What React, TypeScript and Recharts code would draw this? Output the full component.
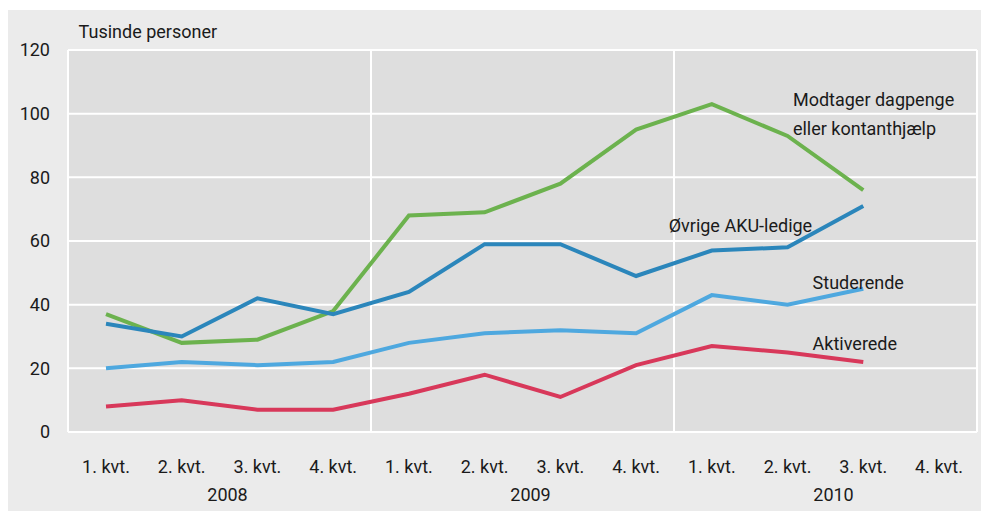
import React from 'react';
import { LineChart, Line, XAxis, YAxis, CartesianGrid, ReferenceLine, ReferenceDot } from 'recharts';

const quarters = ['2008K1', '2008K2', '2008K3', '2008K4', '2009K1', '2009K2', '2009K3', '2009K4', '2010K1', '2010K2', '2010K3', '2010K4'];
const quarterLabels = ['1. kvt.', '2. kvt.', '3. kvt.', '4. kvt.', '1. kvt.', '2. kvt.', '3. kvt.', '4. kvt.', '1. kvt.', '2. kvt.', '3. kvt.', '4. kvt.'];
const years = ['2008', '2009', '2010'];
const yTicks = [0, 20, 40, 60, 80, 100, 120];

const dagpenge = [37, 28, 29, 38, 68, 69, 78, 95, 103, 93, 76, null];
const akuLedige = [34, 30, 42, 37, 44, 59, 59, 49, 57, 58, 71, null];
const studerende = [20, 22, 21, 22, 28, 31, 32, 31, 43, 40, 45, null];
const aktiverede = [8, 10, 7, 7, 12, 18, 11, 21, 27, 25, 22, null];

const data = quarters.map((q, i) => ({
    q,
    idx: i,
    dagpenge: dagpenge[i],
    akuLedige: akuLedige[i],
    studerende: studerende[i],
    aktiverede: aktiverede[i],
}));

const FONT = 'Roboto, sans-serif';
const FS = 18;
const TEXT = '#1a1a1a';

// year boundaries and year label positions on the index axis
const yearEdges = [-0.5, 3.5, 7.5, 11.5];
const yearMids = [1.5, 5.5, 9.5];

// text notes placed in axis units (index axis, y axis 0..120)
const notes = [
    { x: -0.36, y: 123.8, lines: ['Tusinde personer'] },
    { x: 9.07, y: 102.4, lines: ['Modtager dagpenge', 'eller kontanthjælp'] },
    { x: 7.43, y: 62.8, lines: ['Øvrige AKU-ledige'] },
    { x: 9.33, y: 44.9, lines: ['Studerende'] },
    { x: 9.33, y: 25.8, lines: ['Aktiverede'] },
];

const renderNote = (lines: string[]) => (props: any) => {
    const vb = props.viewBox || {};
    return (
        <text x={vb.x} y={vb.y} fill={TEXT} fontFamily={FONT} fontSize={FS}>
            {lines.map((l, i) => (
                <tspan key={i} x={vb.x} dy={i === 0 ? 0 : 29}>{l}</tspan>
            ))}
        </text>
    );
};

export default function App() {
    return (
        <div style={{ position: 'absolute', left: 8, top: 10, width: 973, height: 501, background: '#ebebeb' }}>
            <LineChart width={973} height={501} data={data} margin={{ top: 40, right: 4, left: 0, bottom: 19 }}>
                <CartesianGrid vertical={false} fill="#dedede" stroke="#ffffff" strokeWidth={2} />
                <XAxis
                    dataKey="q"
                    axisLine={false}
                    tickLine={false}
                    tickSize={0}
                    tickMargin={28}
                    height={30}
                    interval={0}
                    padding={{ left: 38, right: 38 }}
                    tickFormatter={(v, i) => quarterLabels[i]}
                    tick={{ fill: TEXT, fontSize: FS, fontFamily: FONT }}
                />
                <XAxis
                    xAxisId="year"
                    dataKey="idx"
                    type="number"
                    domain={[-0.5, 11.5]}
                    allowDataOverflow={true}
                    ticks={yearMids}
                    interval={0}
                    axisLine={false}
                    tickLine={false}
                    tickSize={0}
                    tickMargin={26}
                    height={30}
                    tickFormatter={(v) => years[yearMids.indexOf(v)]}
                    tick={{ fill: TEXT, fontSize: FS, fontFamily: FONT, dx: 8 }}
                />
                <YAxis
                    domain={[0, 120]}
                    ticks={yTicks}
                    width={60}
                    axisLine={false}
                    tickLine={false}
                    tickSize={0}
                    tickMargin={18}
                    tick={{ fill: TEXT, fontSize: FS, fontFamily: FONT }}
                />
                {yearEdges.map((x) => (
                    <ReferenceLine key={x} xAxisId="year" x={x} stroke="#ffffff" strokeWidth={2} ifOverflow="visible" />
                ))}
                <Line dataKey="aktiverede" stroke="#d8385a" strokeWidth={4} dot={false} isAnimationActive={false} />
                <Line dataKey="studerende" stroke="#4ea8df" strokeWidth={4} dot={false} isAnimationActive={false} />
                <Line dataKey="dagpenge" stroke="#6cb24e" strokeWidth={4} dot={false} isAnimationActive={false} />
                <Line dataKey="akuLedige" stroke="#2b86bb" strokeWidth={4} dot={false} isAnimationActive={false} />
                {notes.map((n, i) => (
                    <ReferenceDot
                        key={i}
                        xAxisId="year"
                        x={n.x}
                        y={n.y}
                        r={0}
                        ifOverflow="visible"
                        label={renderNote(n.lines)}
                    />
                ))}
            </LineChart>
        </div>
    );
}
